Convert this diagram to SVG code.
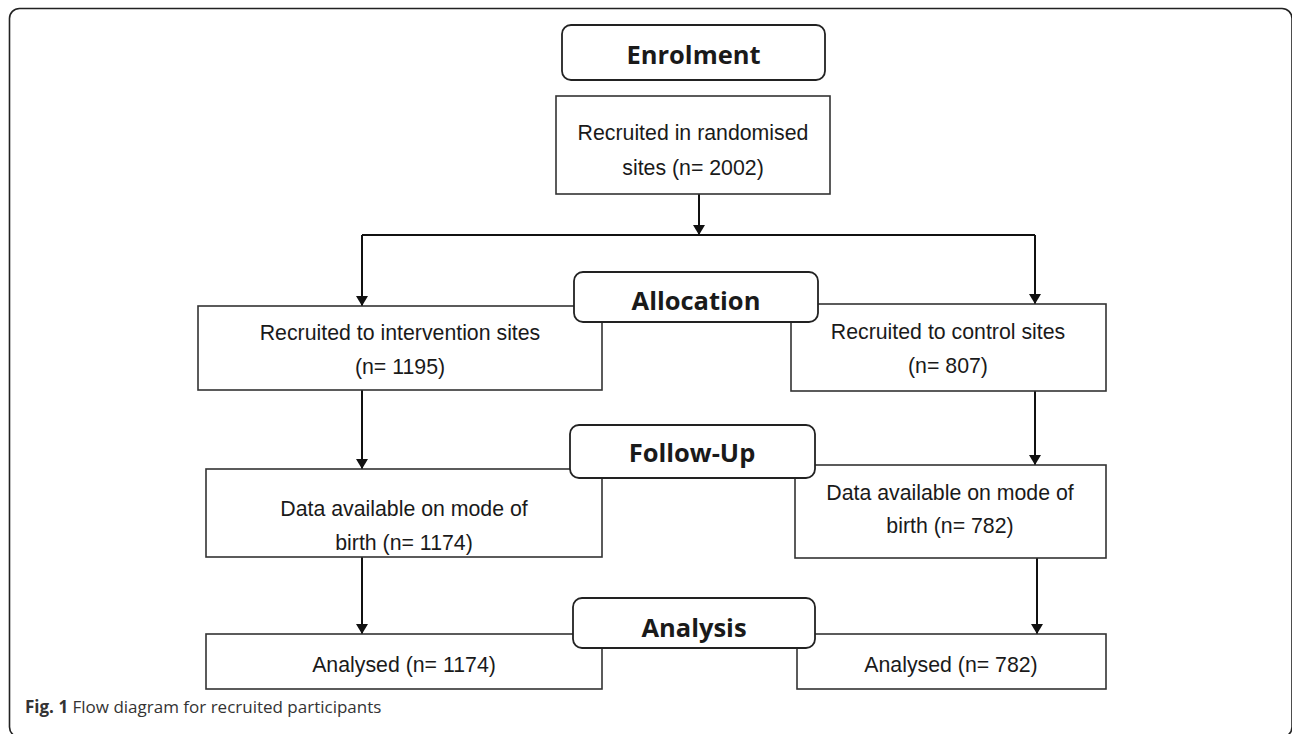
<svg xmlns="http://www.w3.org/2000/svg" width="1292" height="734" viewBox="0 0 1292 734">
<defs>
<marker id="ah" viewBox="0 0 10 12" refX="10" refY="6" markerWidth="10" markerHeight="12" markerUnits="userSpaceOnUse" orient="auto">
<path d="M0,0 L10,6 L0,12 Z" fill="#111"/>
</marker>
<style>
.box{fill:#fff;stroke:#333;stroke-width:1.6}
.hd{fill:#fff;stroke:#222;stroke-width:1.8}
.t{font-family:"Liberation Sans",Arial,sans-serif;font-size:21.3px;fill:#1a1a1a;text-anchor:middle}
.h{font-family:"Open Sans","Noto Sans",sans-serif;font-weight:bold;font-size:25.5px;fill:#1a1a1a;text-anchor:middle}
.c{stroke:#111;stroke-width:2;fill:none}
.cap{font-family:"Open Sans","Noto Sans",sans-serif;font-size:17px;fill:#333}
</style>
</defs>
<rect x="9.5" y="8.5" width="1282.5" height="728.5" rx="10" fill="none" stroke="#222" stroke-width="1.6"/>
<g id="connectors">
<line class="c" x1="699" y1="194" x2="699" y2="235" marker-end="url(#ah)"/>
<polyline class="c" points="362,235 1035,235"/>
<line class="c" x1="362" y1="235" x2="362" y2="306" marker-end="url(#ah)"/>
<line class="c" x1="1035" y1="235" x2="1035" y2="304" marker-end="url(#ah)"/>
<line class="c" x1="362" y1="390" x2="362" y2="469" marker-end="url(#ah)"/>
<line class="c" x1="1035" y1="391" x2="1035" y2="465" marker-end="url(#ah)"/>
<line class="c" x1="362" y1="556" x2="362" y2="634" marker-end="url(#ah)"/>
<line class="c" x1="1037" y1="556" x2="1037" y2="634" marker-end="url(#ah)"/>
</g>
<g id="recruited">
<rect class="box" x="556" y="96" width="274" height="98"/>
<text class="t" x="693" y="140">Recruited in randomised</text>
<text class="t" x="693" y="175">sites (n= 2002)</text>
</g>
<g id="intervention">
<rect class="box" x="198" y="306" width="404" height="84"/>
<text class="t" x="400" y="340">Recruited to intervention sites</text>
<text class="t" x="400" y="374">(n= 1195)</text>
</g>
<g id="control">
<rect class="box" x="791" y="304" width="315" height="87"/>
<text class="t" x="948" y="339">Recruited to control sites</text>
<text class="t" x="948" y="373">(n= 807)</text>
</g>
<g id="data-left">
<rect class="box" x="206" y="469" width="396" height="88"/>
<text class="t" x="404" y="516">Data available on mode of</text>
<text class="t" x="404" y="550">birth (n= 1174)</text>
</g>
<g id="data-right">
<rect class="box" x="795" y="465" width="311" height="93"/>
<text class="t" x="950" y="500">Data available on mode of</text>
<text class="t" x="950" y="533">birth (n= 782)</text>
</g>
<g id="analysed-left">
<rect class="box" x="206" y="634" width="396" height="55"/>
<text class="t" x="404" y="672">Analysed (n= 1174)</text>
</g>
<g id="analysed-right">
<rect class="box" x="797" y="634" width="309" height="55"/>
<text class="t" x="951" y="672">Analysed (n= 782)</text>
</g>
<g id="enrolment">
<rect class="hd" x="562" y="25" width="263" height="55" rx="9"/>
<text class="h" x="693.5" y="64">Enrolment</text>
</g>
<g id="allocation">
<rect class="hd" x="574" y="272" width="244" height="50" rx="9"/>
<text class="h" x="696" y="310">Allocation</text>
</g>
<g id="followup">
<rect class="hd" x="570" y="425" width="245" height="53" rx="9"/>
<text class="h" x="692" y="462">Follow-Up</text>
</g>
<g id="analysis">
<rect class="hd" x="573" y="598" width="242" height="50" rx="9"/>
<text class="h" x="694" y="637">Analysis</text>
</g>
<text class="cap" x="25" y="713"><tspan font-weight="bold">Fig. 1</tspan> Flow diagram for recruited participants</text>
</svg>
